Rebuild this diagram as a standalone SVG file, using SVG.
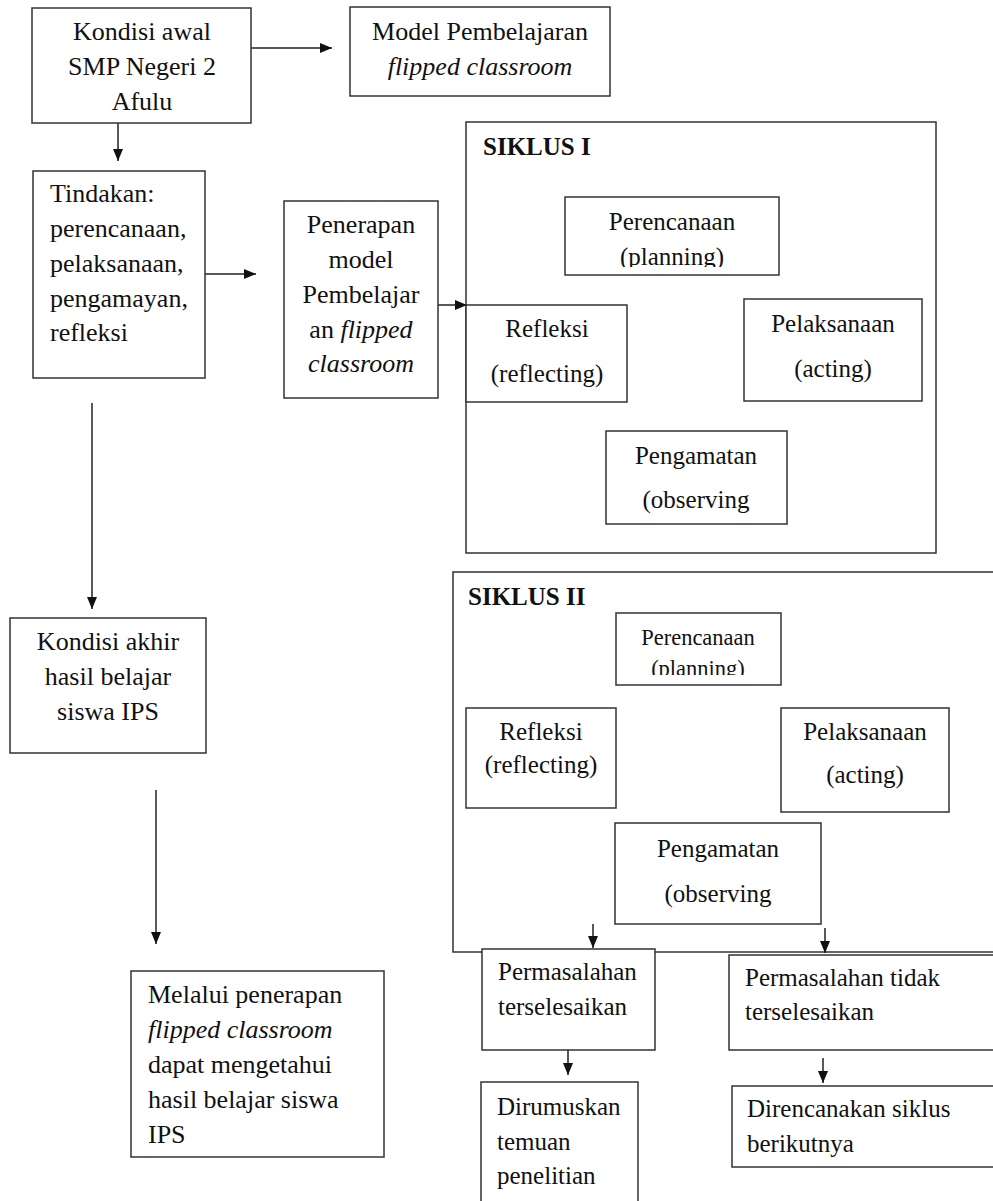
<svg xmlns="http://www.w3.org/2000/svg" width="993" height="1201" viewBox="0 0 993 1201">
<style>
  .box { fill: #fff; stroke: #333; stroke-width: 1.5; }
  .frame { fill: none; stroke: #333; stroke-width: 1.5; }
  text { font-family: "Liberation Serif", "Times New Roman", serif; fill: #111; }
  .t26 { font-size: 26px; }
  .t25 { font-size: 25px; }
  .t22 { font-size: 22.5px; }
  .c { text-anchor: middle; }
  .b { font-weight: bold; }
  .i { font-style: italic; }
  .conn { stroke: #222; stroke-width: 1.5; fill: none; marker-end: url(#arr); }
</style>
<defs>
  <marker id="arr" markerUnits="userSpaceOnUse" markerWidth="12" markerHeight="10" refX="12" refY="5" orient="auto">
    <path d="M0,0 L12,5 L0,10 z" fill="#111"/>
  </marker>
  <clipPath id="clipP1"><rect x="565" y="197" width="214" height="70"/></clipPath>
  <clipPath id="clipP2"><rect x="616" y="613" width="165" height="62"/></clipPath>
</defs>

<g id="siklus1">
  <rect class="frame" x="466" y="122" width="470" height="431"/>
  <text class="t25 b" x="483" y="155">SIKLUS I</text>
</g>
<g id="siklus2">
  <rect class="frame" x="453" y="572" width="600" height="380"/>
  <text class="t25 b" x="468" y="605">SIKLUS II</text>
</g>

<g id="connectors">
  <line class="conn" x1="251" y1="48" x2="332" y2="48"/>
  <line class="conn" x1="118" y1="123" x2="118" y2="161"/>
  <line class="conn" x1="205" y1="274" x2="256" y2="274"/>
  <line class="conn" x1="438" y1="305" x2="467" y2="305"/>
  <line class="conn" x1="92" y1="403" x2="92" y2="609"/>
  <line class="conn" x1="156" y1="790" x2="156" y2="944"/>
  <line class="conn" x1="593" y1="924" x2="593" y2="948"/>
  <line class="conn" x1="825" y1="928" x2="825" y2="953"/>
  <line class="conn" x1="568" y1="1050" x2="568" y2="1075"/>
  <line class="conn" x1="823" y1="1058" x2="823" y2="1083"/>
</g>

<g id="kondisi-awal">
  <rect class="box" x="32" y="8" width="219" height="115"/>
  <text class="t26 c" x="142" y="40">Kondisi awal</text>
  <text class="t26 c" x="142" y="75">SMP Negeri 2</text>
  <text class="t26 c" x="142" y="110">Afulu</text>
</g>

<g id="model">
  <rect class="box" x="350" y="7" width="260" height="89"/>
  <text class="t26 c" x="480" y="40">Model Pembelajaran</text>
  <text class="t26 c i" x="480" y="75">flipped classroom</text>
</g>

<g id="tindakan">
  <rect class="box" x="33" y="171" width="172" height="207"/>
  <text class="t26" x="50" y="202">Tindakan:</text>
  <text class="t26" x="50" y="237">perencanaan,</text>
  <text class="t26" x="50" y="272">pelaksanaan,</text>
  <text class="t26" x="50" y="307">pengamayan,</text>
  <text class="t26" x="50" y="341">refleksi</text>
</g>

<g id="penerapan">
  <rect class="box" x="284" y="201" width="154" height="197"/>
  <text class="t26 c" x="361" y="233">Penerapan</text>
  <text class="t26 c" x="361" y="268">model</text>
  <text class="t26 c" x="361" y="303">Pembelajar</text>
  <text class="t26 c" x="361" y="338">an <tspan class="i">flipped</tspan></text>
  <text class="t26 c i" x="361" y="372">classroom</text>
</g>

<g id="s1-perencanaan">
  <rect class="box" x="565" y="197" width="214" height="78"/>
  <g clip-path="url(#clipP1)">
    <text class="t25 c" x="672" y="230">Perencanaan</text>
    <text class="t25 c" x="672" y="265">(planning)</text>
  </g>
</g>

<g id="s1-refleksi">
  <rect class="box" x="466" y="305" width="161" height="97"/>
  <text class="t25 c" x="547" y="337">Refleksi</text>
  <text class="t25 c" x="547" y="382">(reflecting)</text>
</g>

<g id="s1-pelaksanaan">
  <rect class="box" x="744" y="299" width="178" height="102"/>
  <text class="t25 c" x="833" y="332">Pelaksanaan</text>
  <text class="t25 c" x="833" y="377">(acting)</text>
</g>

<g id="s1-pengamatan">
  <rect class="box" x="606" y="431" width="181" height="93"/>
  <text class="t25 c" x="696" y="464">Pengamatan</text>
  <text class="t25 c" x="696" y="508">(observing</text>
</g>

<g id="kondisi-akhir">
  <rect class="box" x="10" y="618" width="196" height="135"/>
  <text class="t26 c" x="108" y="650">Kondisi akhir</text>
  <text class="t26 c" x="108" y="685">hasil belajar</text>
  <text class="t26 c" x="108" y="720">siswa IPS</text>
</g>

<g id="s2-perencanaan">
  <rect class="box" x="616" y="613" width="165" height="72"/>
  <g clip-path="url(#clipP2)">
    <text class="t22 c" x="698" y="645">Perencanaan</text>
    <text class="t22 c" x="698" y="676">(planning)</text>
  </g>
</g>

<g id="s2-refleksi">
  <rect class="box" x="466" y="708" width="150" height="100"/>
  <text class="t25 c" x="541" y="740">Refleksi</text>
  <text class="t25 c" x="541" y="773">(reflecting)</text>
</g>

<g id="s2-pelaksanaan">
  <rect class="box" x="781" y="708" width="168" height="104"/>
  <text class="t25 c" x="865" y="740">Pelaksanaan</text>
  <text class="t25 c" x="865" y="783">(acting)</text>
</g>

<g id="s2-pengamatan">
  <rect class="box" x="615" y="823" width="206" height="101"/>
  <text class="t25 c" x="718" y="857">Pengamatan</text>
  <text class="t25 c" x="718" y="902">(observing</text>
</g>

<g id="melalui">
  <rect class="box" x="131" y="971" width="253" height="186"/>
  <text class="t26" x="148" y="1003">Melalui penerapan</text>
  <text class="t26 i" x="148" y="1038">flipped classroom</text>
  <text class="t26" x="148" y="1073">dapat mengetahui</text>
  <text class="t26" x="148" y="1108">hasil belajar siswa</text>
  <text class="t26" x="148" y="1143">IPS</text>
</g>

<g id="terselesaikan">
  <rect class="box" x="482" y="949" width="173" height="101"/>
  <text class="t25" x="498" y="980">Permasalahan</text>
  <text class="t25" x="498" y="1015">terselesaikan</text>
</g>

<g id="tidak-terselesaikan">
  <rect class="box" x="729" y="955" width="290" height="95"/>
  <text class="t25" x="745" y="986">Permasalahan tidak</text>
  <text class="t25" x="745" y="1020">terselesaikan</text>
</g>

<g id="dirumuskan">
  <rect class="box" x="481" y="1082" width="157" height="130"/>
  <text class="t25" x="497" y="1115">Dirumuskan</text>
  <text class="t25" x="497" y="1150">temuan</text>
  <text class="t25" x="497" y="1184">penelitian</text>
</g>

<g id="direncanakan">
  <rect class="box" x="732" y="1086" width="290" height="81"/>
  <text class="t25" x="747" y="1117">Direncanakan siklus</text>
  <text class="t25" x="747" y="1152">berikutnya</text>
</g>
</svg>
